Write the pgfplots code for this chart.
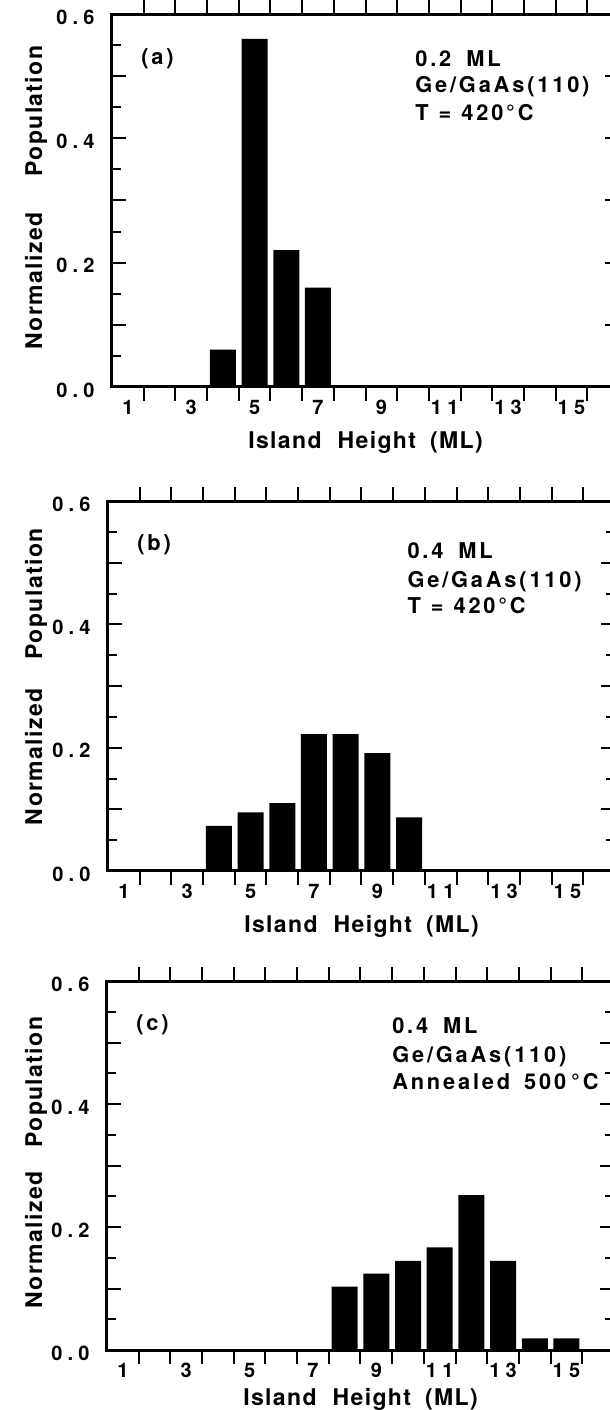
\documentclass[border=0pt]{standalone}
\usepackage{fontspec}
\setmainfont{TeX Gyre Heros}
\newfontfamily\annfont[LetterSpace=13]{TeX Gyre Heros}
\newfontfamily\labfont[LetterSpace=6]{TeX Gyre Heros}
\usepackage{pgfplots}
\pgfplotsset{compat=1.18}

\newcommand{\g}{\hspace{2.6pt}}
\newcommand{\tl}[1]{\fontsize{10}{11}\selectfont\bfseries #1}

\pgfplotsset{
  histo/.style={
    scale only axis,
    width=253.5pt,
    anchor=south west,
    xmin=0.5, xmax=16.5, ymin=0, ymax=0.6,
    ybar, bar width=0.82,
    axis on top,
    axis line style={line width=1.5pt},
    every tick/.style={line width=1pt, black},
    major tick length=7pt,
    minor tick length=4.5pt,
    xtick={1.5,2.5,...,15.5},
    xticklabels={},
    extra x ticks={1,3,5,7,9,11,13,15},
    extra x tick labels={1,3,5,7,9,1\g 1,1\g 3,1\g 5},
    extra x tick style={major tick length=0pt},
    ytick={0,0.1,0.2,0.3,0.4,0.5,0.6},
    yticklabels={0\g.\g0,,0\g.\g2,,0\g.\g4,,0\g.\g6},
    minor ytick={0.05,0.15,0.25,0.35,0.45,0.55},
    every tick label/.append style={font=\tl},
    y tick label style={anchor=east, inner sep=0pt, xshift=-8.5pt, yshift=-1.5pt},
    x tick label style={anchor=north, inner sep=0pt, yshift=-6.5pt},
    label style={font=\labfont\bfseries\fontsize{11.5}{13}\selectfont},
    xlabel={Island\hspace{8pt}Height\hspace{7pt}(ML)},
  },
}
\tikzset{
  ann/.style={anchor=base west, inner sep=0pt, font=\annfont\bfseries\fontsize{10.9}{13}\selectfont},
}

\begin{document}
\begin{tikzpicture}

% (a)
\begin{axis}[histo, height=186.5pt, at={(56pt,511.5pt)},
  xlabel style={at={(axis description cs:0.5,0)}, anchor=base, yshift=-30.75pt},
  ylabel={Normalized\hspace{18pt}Population},
  ylabel style={at={(axis description cs:-0.138,0.508)}, anchor=base, rotate=0}]
\addplot[fill=black, draw=none] coordinates {(4,0.06) (5,0.56) (6,0.22) (7,0.16)};
\node[ann] at (axis cs:1.415,0.519) {(a)};
\node[ann] at (axis cs:10.06,0.515) {0.2\hspace{7.5pt}ML};
\node[ann] at (axis cs:10.06,0.473) {Ge/GaAs(110)};
\node[ann] at (axis cs:10.06,0.429) {T\hspace{5pt}=\hspace{5pt}420°C};
\end{axis}

% (b)
\begin{axis}[histo, height=185pt, at={(54pt,269.5pt)},
  xlabel style={at={(axis description cs:0.5,0)}, anchor=base, yshift=-31pt},
  ylabel={Normalized\hspace{14.5pt}Population},
  ylabel style={at={(axis description cs:-0.130,0.525)}, anchor=base, rotate=0}]
\addplot[fill=black, draw=none] coordinates {(4,0.073) (5,0.095) (6,0.11) (7,0.222) (8,0.222) (9,0.191) (10,0.087)};
\node[ann] at (axis cs:1.415,0.519) {(b)};
\node[ann] at (axis cs:9.94,0.506) {0.4\hspace{7.5pt}ML};
\node[ann] at (axis cs:9.94,0.4605) {Ge/GaAs(110)};
\node[ann] at (axis cs:9.94,0.418) {T\hspace{5pt}=\hspace{5pt}420°C};
\end{axis}

% (c)
\begin{axis}[histo, height=184.5pt, at={(53.5pt,30pt)},
  xlabel style={at={(axis description cs:0.5,0)}, anchor=base, yshift=-27.5pt},
  ylabel={Normalized\hspace{12pt}Population},
  ylabel style={at={(axis description cs:-0.128,0.508)}, anchor=base, rotate=0}]
\addplot[fill=black, draw=none] coordinates {(8,0.103) (9,0.124) (10,0.145) (11,0.167) (12,0.252) (13,0.145) (14,0.019) (15,0.019)};
\node[ann] at (axis cs:1.415,0.519) {(c)};
\node[ann] at (axis cs:9.49,0.514) {0.4\hspace{7.5pt}ML};
\node[ann] at (axis cs:9.49,0.468) {Ge/GaAs(110)};
\node[ann] at (axis cs:9.49,0.424) {Annealed\hspace{7pt}500\hspace{2.5pt}°C};
\end{axis}

\pgfresetboundingbox
\useasboundingbox (0,0) rectangle (305pt,705pt);
\end{tikzpicture}
\end{document}
